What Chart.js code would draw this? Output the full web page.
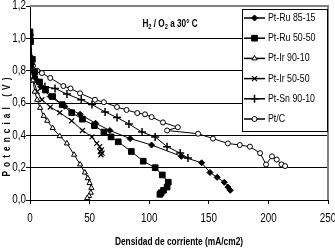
<!DOCTYPE html>
<html>
<head>
<meta charset="utf-8">
<script src="https://cdn.jsdelivr.net/npm/chart.js@4"></script>
<style>
  html, body { margin: 0; padding: 0; background: #fff; }
  #wrap { width: 335px; height: 251px; }
</style>
</head>
<body>
<div id="wrap"><canvas id="chart" width="335" height="251"></canvas></div>
<script>
// series names
const seriesNames = ['Pt-Ru 85-15', 'Pt-Ru 50-50', 'Pt-Ir 90-10', 'Pt-Ir 50-50', 'Pt-Sn 90-10', 'Pt/C'];

// current density (mA/cm2) / potential (V)
const ptRu8515X = [0, 1.5, 4, 9, 17, 29, 42, 55, 67, 84, 102, 127, 144, 151, 157, 163, 166, 168];
const ptRu8515Y = [1.02, 0.84, 0.76, 0.70, 0.64, 0.58, 0.53, 0.475, 0.43, 0.38, 0.34, 0.27, 0.23, 0.17, 0.14, 0.11, 0.08, 0.06];

const ptRu5050X = [0, 0, 0.5, 2, 4, 8, 13, 19, 27, 35, 44, 54, 62, 68, 74, 85, 95, 105, 111, 116, 115, 112, 110, 109];
const ptRu5050Y = [1.04, 1.01, 0.98, 0.87, 0.79, 0.73, 0.68, 0.64, 0.59, 0.54, 0.50, 0.46, 0.42, 0.39, 0.36, 0.30, 0.24, 0.20, 0.155, 0.11, 0.08, 0.06, 0.045, 0.035];

const ptIr9010X = [0, 0.8, 2.5, 4, 6, 8.5, 11.5, 14.5, 19, 25, 31, 37, 42, 46, 48.5, 50, 51.5, 51, 49.5, 48];
const ptIr9010Y = [1.02, 0.87, 0.74, 0.67, 0.62, 0.57, 0.52, 0.49, 0.445, 0.395, 0.35, 0.28, 0.22, 0.17, 0.135, 0.105, 0.075, 0.045, 0.025, 0.012];

const ptIr5050X = [0, 1, 3, 6, 10, 17, 25, 35, 44, 52, 56, 58.5, 60, 59, 60.5, 59.5];
const ptIr5050Y = [1.02, 0.84, 0.74, 0.67, 0.62, 0.575, 0.54, 0.49, 0.43, 0.39, 0.35, 0.33, 0.31, 0.30, 0.29, 0.28];

const ptSn9010X = [0, 1, 2.5, 6, 12.5, 21, 31, 43, 52, 63, 73, 83, 94, 105, 115, 126, 132.5];
const ptSn9010Y = [1.02, 0.86, 0.79, 0.74, 0.70, 0.69, 0.655, 0.62, 0.59, 0.545, 0.51, 0.47, 0.42, 0.39, 0.33, 0.29, 0.26];

const ptCX = [0, 1, 2.5, 6, 10, 17, 28, 34, 42, 54.5, 62, 73, 81, 90, 96.5, 102, 111.5, 124, 115, 141, 153.5, 166, 176, 184.5, 193, 198, 203, 207, 211, 214];
const ptCY = [1.02, 0.88, 0.83, 0.80, 0.785, 0.755, 0.705, 0.69, 0.66, 0.62, 0.605, 0.575, 0.557, 0.538, 0.53, 0.513, 0.48, 0.45, 0.43, 0.41, 0.38, 0.35, 0.34, 0.33, 0.29, 0.22, 0.27, 0.25, 0.22, 0.21];

// axis ticks
const xTicks = [0, 50, 100, 150, 200, 250];
const yTicks = [0, 0.2, 0.4, 0.6, 0.8, 1.0, 1.2];

const FONT = '"Liberation Sans", Arial, sans-serif';
const SQUEEZE = 0.82;   // the original text is a narrow face

function pts(xs, ys) {
    return xs.map((x, i) => ({ x: x, y: ys[i] }));
}

// draw text squeezed horizontally
function narrowText(ctx, text, x, y, font, align, sx) {
    ctx.save();
    ctx.font = font;
    ctx.translate(x, y);
    ctx.scale(sx || SQUEEZE, 1);
    ctx.textAlign = align || 'left';
    ctx.fillText(text, 0, 0);
    ctx.restore();
}

// marker look per series
const markers = [
    { style: 'rectRot', radius: 3, fill: '#000', width: 1 },
    { style: 'rect', radius: 4, fill: '#000', width: 1 },
    { style: 'triangle', radius: 3, fill: '#fff', width: 1 },
    { style: 'crossRot', radius: 3.5, fill: '#000', width: 1.2 },
    { style: 'cross', radius: 4, fill: '#000', width: 1.5 },
    { style: 'circle', radius: 2.5, fill: '#fff', width: 1 }
];

const allData = [
    pts(ptRu8515X, ptRu8515Y),
    pts(ptRu5050X, ptRu5050Y),
    pts(ptIr9010X, ptIr9010Y),
    pts(ptIr5050X, ptIr5050Y),
    pts(ptSn9010X, ptSn9010Y),
    pts(ptCX, ptCY)
];

const datasets = seriesNames.map((name, i) => ({
    label: name,
    data: allData[i],
    showLine: true,
    borderColor: '#000',
    borderWidth: 1,
    backgroundColor: markers[i].fill,
    pointStyle: markers[i].style,
    pointRadius: markers[i].radius,
    pointBorderWidth: markers[i].width,
    pointBorderColor: '#000',
    pointBackgroundColor: markers[i].fill,
    tension: 0
}));

// frame, tick labels, titles and legend
const overlay = {
    id: 'overlay',
    afterDraw(chart) {
        const ctx = chart.ctx;
        const a = chart.chartArea;
        const sx = chart.scales.x, sy = chart.scales.y;
        ctx.save();

        // grey frame top and right
        ctx.strokeStyle = '#808080';
        ctx.lineWidth = 2;
        ctx.beginPath();
        ctx.moveTo(a.left, a.top);
        ctx.lineTo(a.right, a.top);
        ctx.lineTo(a.right, a.bottom);
        ctx.stroke();

        ctx.fillStyle = '#000';

        // tick labels
        ctx.textBaseline = 'middle';
        yTicks.forEach(v => {
            narrowText(ctx, v.toFixed(1).replace('.', ','), 26, sy.getPixelForValue(v), '12px ' + FONT, 'right');
        });
        xTicks.forEach(v => {
            narrowText(ctx, String(v), sx.getPixelForValue(v), 219, '12px ' + FONT, 'center');
        });

        // x title
        narrowText(ctx, 'Densidad de corriente (mA/cm2)', (a.left + a.right) / 2, 242, 'bold 11px ' + FONT, 'center', 0.76);

        // inner title  H2 / O2 a 30° C
        ctx.textBaseline = 'alphabetic';
        const parts = [['H', 0], ['2', 1], [' / O', 0], ['2', 1], [' a 30\u00b0 C', 0]];
        const big = 'bold 10px ' + FONT, small = 'bold 7px ' + FONT;
        let w = 0;
        parts.forEach(p => { ctx.font = p[1] ? small : big; w += ctx.measureText(p[0]).width * SQUEEZE; });
        let tx = 170 - w / 2;
        parts.forEach(p => {
            narrowText(ctx, p[0], tx, p[1] ? 29 : 27, p[1] ? small : big, 'left');
            ctx.font = p[1] ? small : big;
            tx += ctx.measureText(p[0]).width * SQUEEZE;
        });

        // legend box
        const lx = 242, ly = 9, lw = 85, lh = 122;
        ctx.fillStyle = '#fff';
        ctx.fillRect(lx, ly, lw, lh);
        ctx.strokeStyle = '#000';
        ctx.lineWidth = 1;
        ctx.strokeRect(lx + 0.5, ly + 0.5, lw, lh);
        chart.data.datasets.forEach((ds, i) => {
            const y = 18 + i * 20.2;
            ctx.strokeStyle = '#000';
            ctx.lineWidth = 1.5;
            ctx.beginPath();
            ctx.moveTo(244, y);
            ctx.lineTo(265, y);
            ctx.stroke();
            ctx.fillStyle = ds.pointBackgroundColor;
            ctx.lineWidth = ds.pointBorderWidth;
            Chart.helpers.drawPoint(ctx, { pointStyle: ds.pointStyle, radius: ds.pointRadius, borderWidth: ds.pointBorderWidth, rotation: 0 }, 254.5, y);
            ctx.fillStyle = '#000';
            ctx.textBaseline = 'middle';
            narrowText(ctx, ds.label, 268, y, '11px ' + FONT, 'left', 0.8);
        });

        // y axis title with wide spacing
        ctx.translate(7, 125);
        ctx.rotate(-Math.PI / 2);
        ctx.scale(SQUEEZE, 1);
        ctx.font = 'bold 10px ' + FONT;
        ctx.letterSpacing = '5px';
        ctx.textAlign = 'center';
        ctx.textBaseline = 'middle';
        ctx.fillStyle = '#000';
        ctx.fillText('Potencial (V)', 0, 0);
        ctx.restore();
    }
};

new Chart(document.getElementById('chart'), {
    type: 'scatter',
    data: { datasets: datasets },
    plugins: [overlay],
    options: {
        responsive: false,
        animation: false,
        layout: { padding: { top: 6, right: 7, left: 0, bottom: 0 } },
        plugins: {
            legend: { display: false },
            tooltip: { enabled: false }
        },
        scales: {
            x: {
                type: 'linear',
                min: 0,
                max: 250,
                afterBuildTicks: (scale) => { scale.ticks = xTicks.map(v => ({ value: v })); },
                afterFit: (scale) => { scale.height = 51; scale.paddingLeft = 0; scale.paddingRight = 0; },
                ticks: { display: false },
                grid: { drawOnChartArea: false, drawTicks: true, tickLength: 4, tickColor: '#000' },
                border: { color: '#000', width: 1 }
            },
            y: {
                type: 'linear',
                min: 0,
                max: 1.2,
                afterBuildTicks: (scale) => { scale.ticks = yTicks.map(v => ({ value: v })); },
                afterFit: (scale) => { scale.width = 30; scale.paddingTop = 0; scale.paddingBottom = 0; },
                ticks: { display: false },
                grid: {
                    drawTicks: true,
                    tickLength: 4,
                    tickColor: '#000',
                    color: (c) => (c.tick && c.tick.value > 0.01 && c.tick.value < 1.19) ? '#000' : 'rgba(0,0,0,0)',
                    lineWidth: 1
                },
                border: { color: '#000', width: 1 }
            }
        }
    }
});
</script>
</body>
</html>
